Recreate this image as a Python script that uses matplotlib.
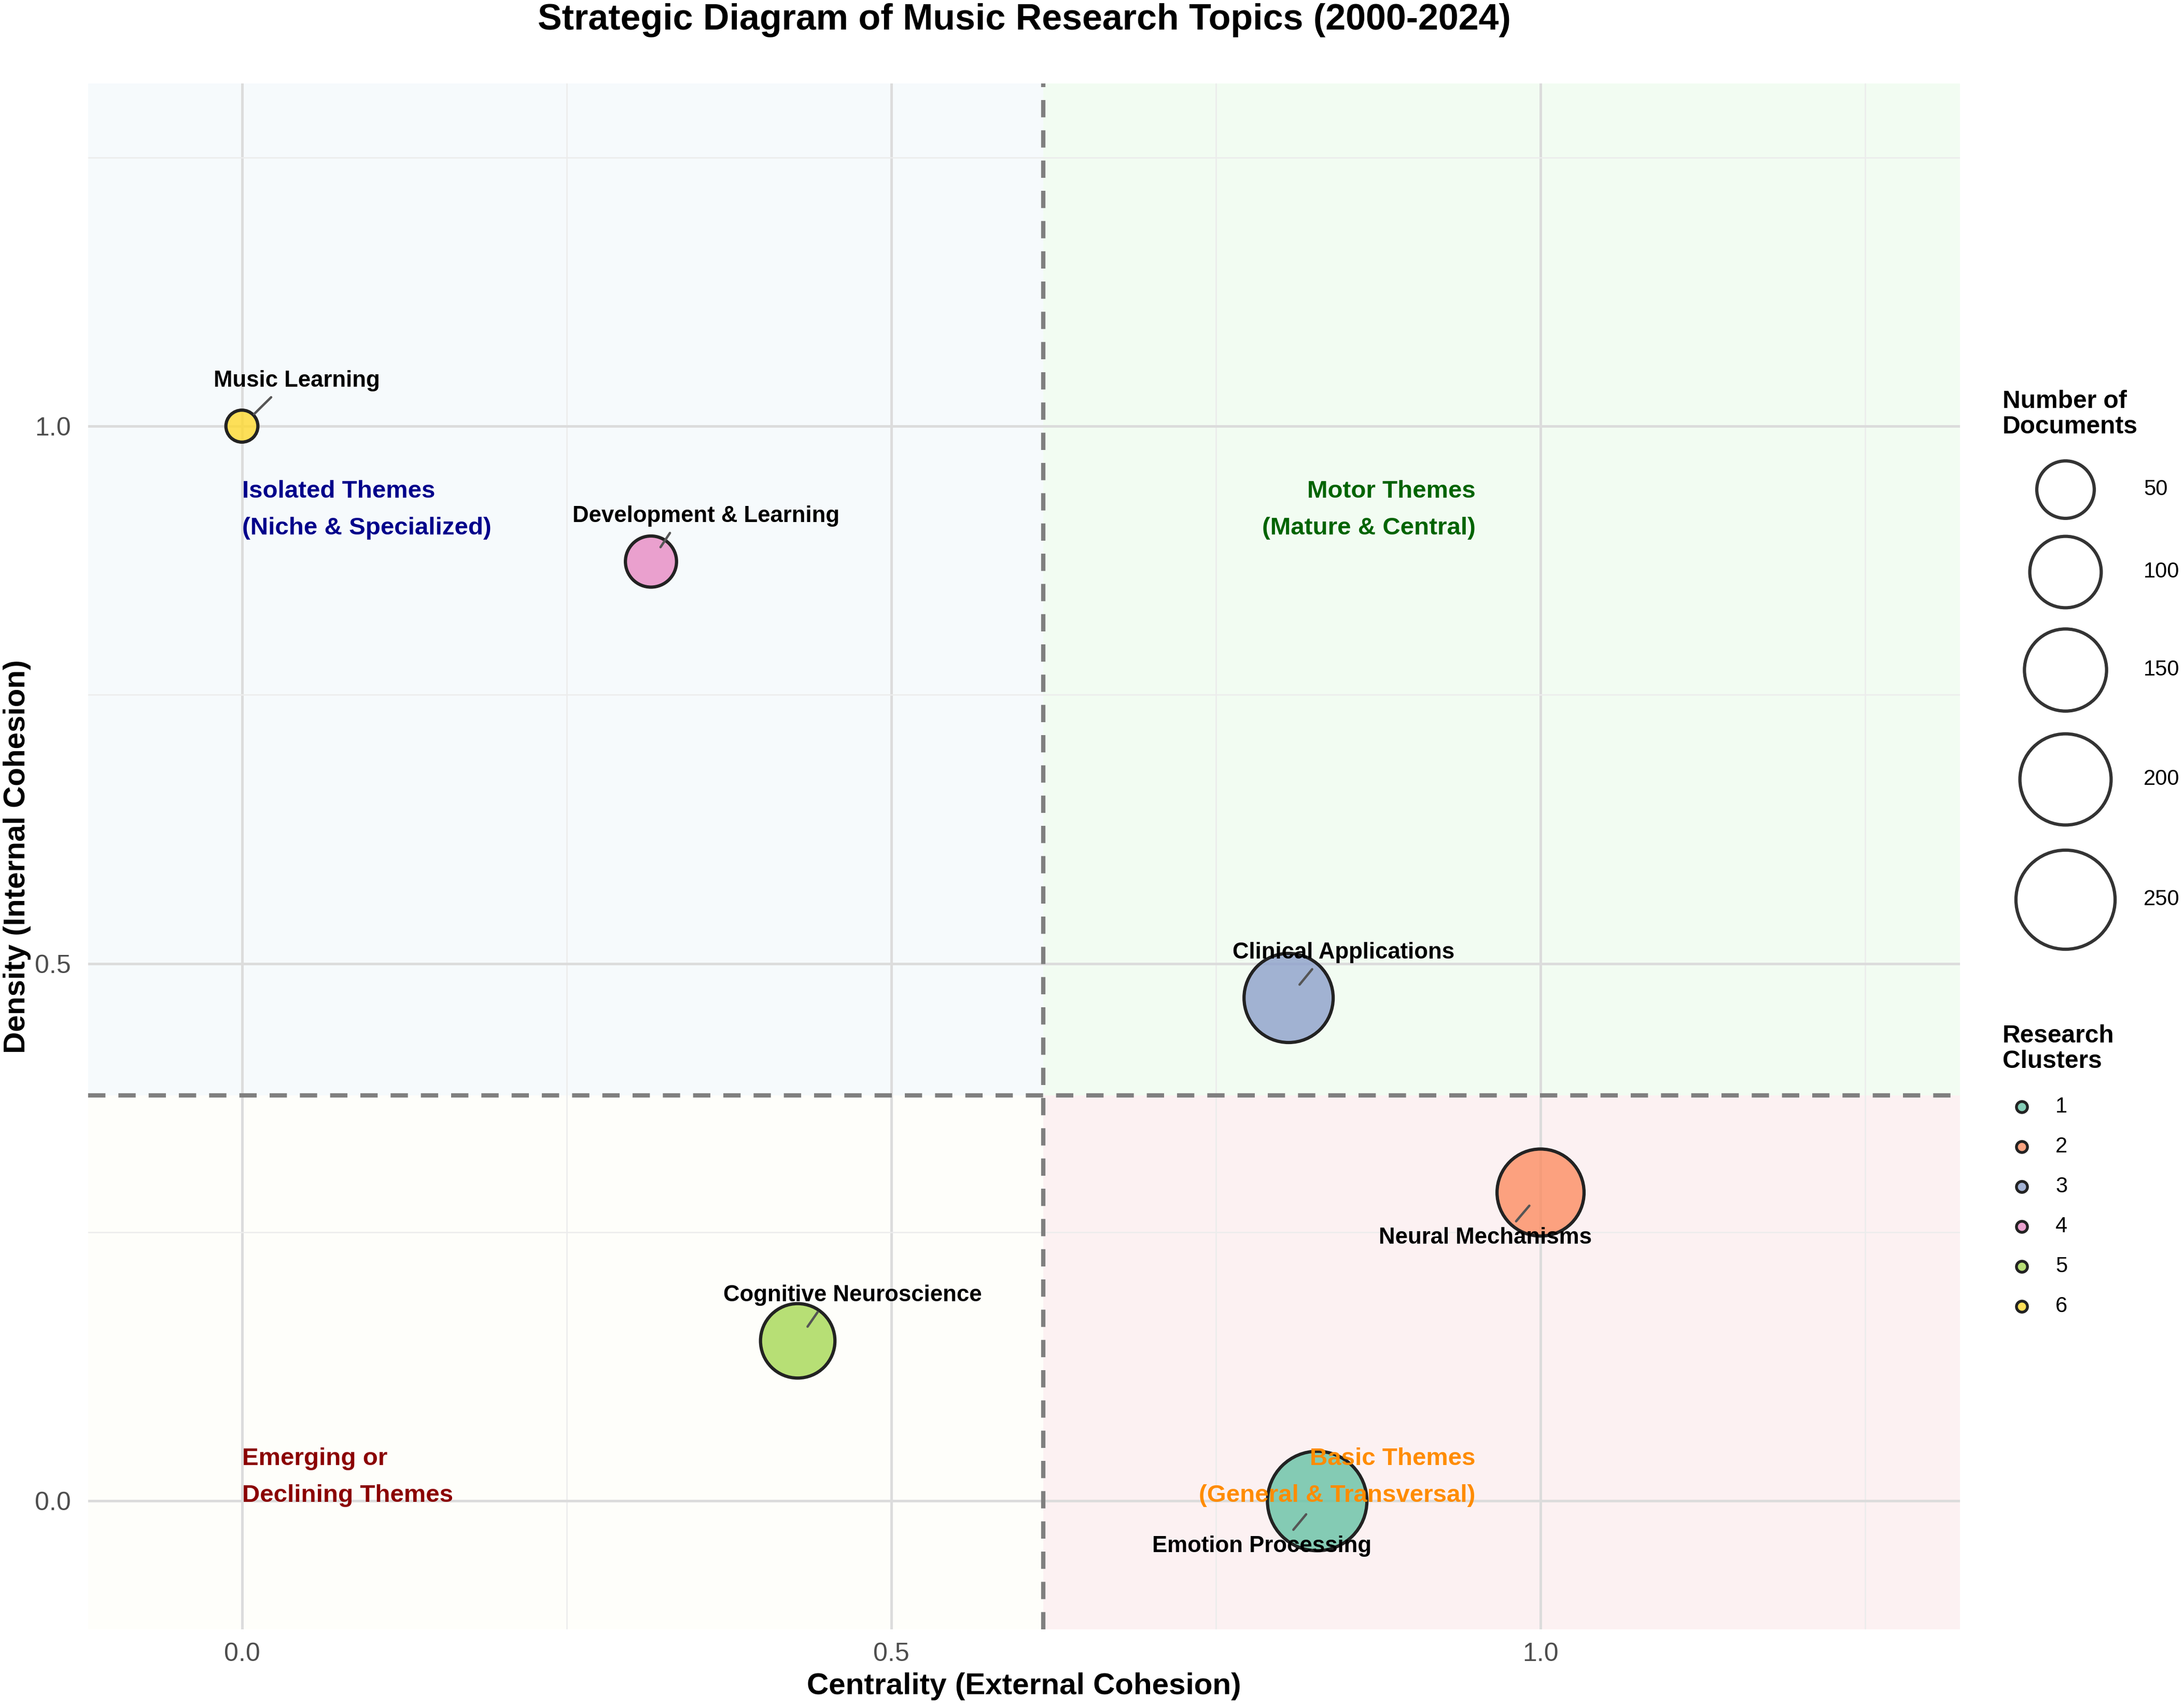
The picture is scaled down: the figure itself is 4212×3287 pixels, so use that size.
import matplotlib
matplotlib.use('Agg')
import matplotlib.pyplot as plt
from matplotlib.colors import to_rgba
import numpy as np

# research clusters of the strategic map
clusters = [1, 2, 3, 4, 5, 6]
themes = ['Emotion Processing', 'Neural Mechanisms', 'Clinical Applications',
          'Development & Learning', 'Cognitive Neuroscience', 'Music Learning']
centrality = [0.828, 1.0, 0.806, 0.315, 0.428, 0.0]
density = [0.0, 0.287, 0.468, 0.874, 0.149, 1.0]
documents = [252, 176, 188, 33, 113, 3]
cluster_colors = ['#66C2A5', '#FC8D62', '#8DA0CB', '#E78AC3', '#A6D854', '#FFD92F']

size_breaks = [50, 100, 150, 200, 250]
major_ticks = [0.0, 0.5, 1.0]
minor_ticks = [0.25, 0.75, 1.25]

quadrant_texts = ['Isolated Themes\n(Niche & Specialized)', 'Motor Themes\n(Mature & Central)',
                  'Emerging or\nDeclining Themes', 'Basic Themes\n(General & Transversal)']
quadrant_colors = ['#00008B', '#006400', '#8B0000', '#FF8C00']

# which way each label was pushed (ggrepel look)
label_side = ['down', 'down', 'up', 'up', 'up', 'up']

W, H, DPI = 4212, 3287, 300
plt.rcParams['font.family'] = ['Liberation Sans', 'DejaVu Sans']


def pt(v):
    # pixels -> points
    return v * 72 / DPI


def outer_radius(n):
    # size scale, outer radius of a bubble in pixels
    return 26 + 4.6 * np.sqrt(n)


def marker_area(n, lw=1.5):
    r = outer_radius(n) - lw * DPI / 72 / 2
    return (2 * pt(r)) ** 2


fig = plt.figure(figsize=(W / DPI, H / DPI), dpi=DPI)
ax = fig.add_axes([170 / W, 1 - 3143 / H, 3610 / W, 2982 / H])
ax.set_xlim(-0.1184, 1.323)
ax.set_ylim(-0.1194, 1.3188)
x0, x1 = ax.get_xlim()
y0, y1 = ax.get_ylim()

xmid = np.median(centrality)
ymid = np.median(density)

# quadrant backgrounds
ax.fill_between([x0, xmid], ymid, y1, color='#F6FAFC', lw=0, zorder=0.1)
ax.fill_between([xmid, x1], ymid, y1, color='#F2FCF2', lw=0, zorder=0.1)
ax.fill_between([x0, xmid], y0, ymid, color='#FEFEFA', lw=0, zorder=0.1)
ax.fill_between([xmid, x1], y0, ymid, color='#FCF1F2', lw=0, zorder=0.1)

ax.set_xticks(major_ticks)
ax.set_yticks(major_ticks)
ax.set_xticks(minor_ticks, minor=True)
ax.set_yticks(minor_ticks, minor=True)
ax.set_xticklabels([f'{t:.1f}' for t in major_ticks])
ax.set_yticklabels([f'{t:.1f}' for t in major_ticks])
ax.set_axisbelow(True)
ax.grid(which='major', color='#DCDCDC', lw=1.2)
ax.grid(which='minor', color='#ECECEC', lw=0.6)
ax.tick_params(which='both', length=0, labelsize=12, colors='#4D4D4D')
ax.tick_params(axis='x', pad=6)
ax.tick_params(axis='y', pad=8)
for s in ax.spines.values():
    s.set_visible(False)

ax.axvline(xmid, color='#7F7F7F', lw=2.0, ls=(0, (4, 3)), zorder=2)
ax.axhline(ymid, color='#7F7F7F', lw=2.0, ls=(0, (4, 3)), zorder=2)

ax.scatter(centrality, density, s=[marker_area(n) for n in documents],
           c=[to_rgba(c, 0.8) for c in cluster_colors],
           edgecolors='#222222', linewidths=1.5, zorder=3)

for i in range(len(themes)):
    if label_side[i] == 'up':
        off, rel = (25.5, 21), (0.38, 0.0)
    else:
        off, rel = (-25.5, -21), (0.62, 1.0)
    ax.annotate(themes[i], (centrality[i], density[i]), xytext=off,
                textcoords='offset points', ha='center', va='center',
                fontsize=10.5, fontweight='bold', zorder=5,
                arrowprops=dict(arrowstyle='-', color='#555555', lw=1.1,
                                shrinkA=1, shrinkB=8, relpos=rel))

# quadrant names
qkw = dict(fontsize=11.4, fontweight='bold', linespacing=1.8, va='top', zorder=4)
ax.text(0.0, 0.95, quadrant_texts[0], color=quadrant_colors[0], ha='left', **qkw)
ax.text(0.95, 0.95, quadrant_texts[1], color=quadrant_colors[1], ha='right',
        multialignment='right', **qkw)
ax.text(0.0, 0.05, quadrant_texts[2], color=quadrant_colors[2], ha='left', **qkw)
ax.text(0.95, 0.05, quadrant_texts[3], color=quadrant_colors[3], ha='right',
        multialignment='right', **qkw)

# titles
fig.text(1975 / W, 1 - 57 / H, 'Strategic Diagram of Music Research Topics (2000-2024)',
         ha='center', va='baseline', fontsize=16.8, fontweight='bold')
fig.text(1975 / W, 1 - 3268 / H, 'Centrality (External Cohesion)',
         ha='center', va='baseline', fontsize=14, fontweight='bold')
fig.text(33 / W, 1 - 1652 / H, 'Density (Internal Cohesion)', rotation=90,
         ha='center', va='center', fontsize=14, fontweight='bold')

# legends, drawn in pixel space on an overlay
lax = fig.add_axes([0, 0, 1, 1])
lax.set_xlim(0, W)
lax.set_ylim(H, 0)
lax.axis('off')

lax.text(3862, 752, 'Number of\nDocuments', ha='left', va='top', fontsize=11.5,
         fontweight='bold', linespacing=1.12)
y = 944
prev_h = None
for n in size_breaks:
    h = 1.22 * 2 * outer_radius(n)
    if prev_h is not None:
        y += (prev_h + h) / 2
    prev_h = h
    lax.scatter([3983], [y], s=marker_area(n), facecolor='white',
                edgecolors='#333333', linewidths=1.5)
    lax.text(4134, y, str(n), ha='left', va='center', fontsize=10)

lax.text(3862, 1976, 'Research\nClusters', ha='left', va='top', fontsize=11.5,
         fontweight='bold', linespacing=1.12)
for i, c in enumerate(clusters):
    yk = 2135 + 77 * i
    lax.scatter([3899], [yk], s=26, c=[to_rgba(cluster_colors[i], 0.8)],
                edgecolors='#222222', linewidths=1.3)
    lax.text(3964, yk, str(c), ha='left', va='center', fontsize=10)

fig.savefig('out.png', dpi=DPI)
